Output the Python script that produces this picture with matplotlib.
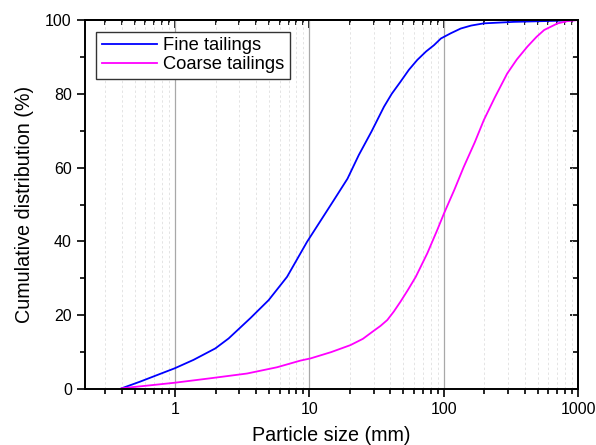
import numpy as np
import matplotlib.pyplot as plt
from matplotlib.ticker import LogLocator, FixedLocator, NullFormatter

plt.rcParams['font.family'] = ['Liberation Sans', 'DejaVu Sans']

# particle size (mm) and cumulative distribution (%)
fine_size = [0.40, 0.548, 0.773, 0.99, 1.37, 1.99, 2.50, 3.63, 4.97, 6.81, 9.6,
             15.2, 19.2, 23.3, 29.0, 35.9, 41.0, 47.7, 55.0, 63.6, 74.0, 84.7, 95.3,
             112.7, 134, 160, 199, 334, 706, 1000]
fine_cum = [0.2, 2.0, 4.1, 5.6, 7.9, 11.0, 13.7, 19.2, 24.1, 30.4, 39.9,
            51.2, 57.0, 63.4, 69.8, 76.5, 80.0, 83.3, 86.5, 89.2, 91.5, 93.2, 95.0,
            96.4, 97.7, 98.5, 99.1, 99.5, 99.8, 100.0]

coarse_size = [0.40, 0.65, 0.99, 1.82, 3.43, 5.74, 8.56, 10.2, 14.5, 20.2, 25.0,
               29.4, 33.8, 38.0, 42.5, 47.7, 54.0, 61.9, 75.5, 89.5, 100.5, 120, 141,
               170, 199, 240, 297, 350, 420, 490, 560, 706, 836, 1000]
coarse_cum = [0.2, 1.0, 1.7, 2.9, 4.2, 5.9, 7.7, 8.3, 10.0, 11.9, 13.6,
              15.5, 17.1, 18.7, 21.0, 23.7, 26.8, 30.4, 36.8, 43.1, 47.6, 54.0, 60.2,
              66.8, 72.9, 79.0, 85.5, 89.3, 92.8, 95.4, 97.3, 99.1, 99.7, 100.0]

fig = plt.figure(figsize=(5.96, 4.45), dpi=100)
ax = fig.add_axes([0.1426, 0.1258, 0.8272, 0.8292])

ax.plot(fine_size, fine_cum, color='#0000ff', lw=1.3, label='Fine tailings')
ax.plot(coarse_size, coarse_cum, color='#ff00ff', lw=1.3, label='Coarse tailings')

ax.set_xscale('log')
ax.set_xlim(0.213, 1000)
ax.set_ylim(0, 100)

ax.xaxis.set_major_locator(FixedLocator([1, 10, 100, 1000]))
ax.set_xticklabels(['1', '10', '100', '1000'])
ax.xaxis.set_minor_locator(LogLocator(base=10, subs=np.arange(2, 10), numticks=20))
ax.xaxis.set_minor_formatter(NullFormatter())
ax.set_yticks([0, 20, 40, 60, 80, 100])
ax.set_yticks([10, 30, 50, 70, 90], minor=True)

ax.grid(True, which='major', axis='x', color='#a8a8a8', lw=0.9)
ax.grid(True, which='minor', axis='x', color='#e4e4e4', lw=0.7, ls=(0, (2.5, 2.5)))

for s in ax.spines.values():
    s.set_linewidth(1.4)

ax.tick_params(which='major', direction='out', length=6, width=1.2, labelsize=11.5,
               top=False, right=False)
ax.tick_params(which='minor', direction='out', length=3.5, width=1.2,
               top=False, right=False)

# inward ticks on top and right
axt = ax.secondary_xaxis('top')
axt.xaxis.set_major_locator(FixedLocator([1, 10, 100, 1000]))
axt.xaxis.set_minor_locator(LogLocator(base=10, subs=np.arange(2, 10), numticks=20))
axt.tick_params(which='major', direction='in', length=6, width=1.2, labeltop=False)
axt.tick_params(which='minor', direction='in', length=3.5, width=1.2)
axt.xaxis.set_major_formatter(NullFormatter())
axt.xaxis.set_minor_formatter(NullFormatter())
axt.spines['top'].set_linewidth(1.4)

axr = ax.secondary_yaxis('right')
axr.set_yticks([0, 20, 40, 60, 80, 100])
axr.set_yticks([10, 30, 50, 70, 90], minor=True)
axr.tick_params(which='major', direction='in', length=6, width=1.2, labelright=False)
axr.tick_params(which='minor', direction='in', length=3.5, width=1.2)
axr.spines['right'].set_linewidth(1.4)

ax.set_xlabel('Particle size (mm)', fontsize=14.2, labelpad=6)
ax.set_ylabel('Cumulative distribution (%)', fontsize=14.2, labelpad=8)

leg = ax.legend(loc='upper left', bbox_to_anchor=(0.012, 0.983), fontsize=13.2,
                fancybox=False, edgecolor='#333333', framealpha=1,
                handlelength=3.0, handletextpad=0.35, borderpad=0.3,
                labelspacing=0.12, borderaxespad=0.3)
leg.get_frame().set_linewidth(1.0)

fig.savefig('out.png', dpi=100)
